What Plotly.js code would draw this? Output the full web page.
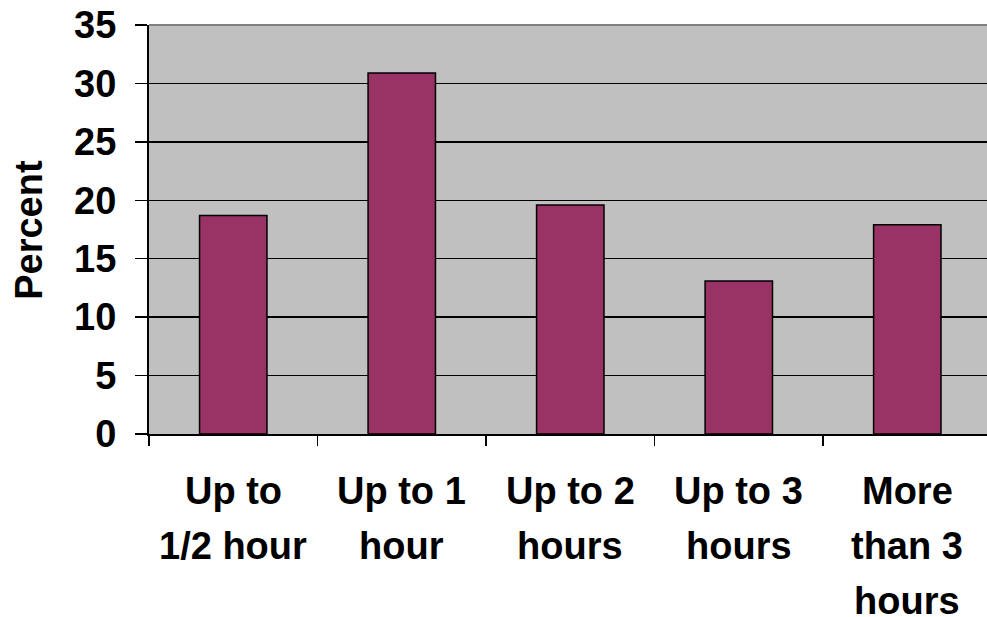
<!DOCTYPE html>
<html>
<head>
<meta charset="utf-8">
<script src="https://cdn.plot.ly/plotly-3.0.1.min.js"></script>
<style>html,body{margin:0;padding:0;background:#fff;}#chart{width:987px;height:617px;}</style>
</head>
<body>
<div id="chart"></div>
<script>
const categories = ["Up to 1/2 hour", "Up to 1 hour", "Up to 2 hours", "Up to 3 hours", "More than 3 hours"];
const labelLines = [["Up to", "1/2 hour"], ["Up to 1", "hour"], ["Up to 2", "hours"], ["Up to 3", "hours"], ["More", "than 3", "hours"]];
const percents = [18.7, 30.9, 19.6, 13.1, 17.9];
const yTicks = [0, 5, 10, 15, 20, 25, 30, 35];
const yTitle = "Percent";

const FONT = "Liberation Sans, Arial, sans-serif";
const annotations = [];
categories.forEach((c, i) => {
  labelLines[i].forEach((line, j) => {
    annotations.push({
      x: c, xref: "x", y: 0, yref: "paper",
      xanchor: "center", yanchor: "middle",
      yshift: -57 - 55 * j,
      text: "<b>" + line + "</b>", showarrow: false,
      font: {family: FONT, size: 38, color: "#000"}
    });
  });
});
annotations.push({
  x: -0.144, xref: "paper", y: 0.5, yref: "paper",
  xanchor: "center", yanchor: "middle", textangle: -90,
  text: "<b>" + yTitle + "</b>", showarrow: false,
  font: {family: FONT, size: 38, color: "#000"}
});

const trace = {
  type: "bar", x: categories, y: percents, width: 0.4,
  marker: {color: "#993366", line: {color: "#000", width: 1.5}},
  hoverinfo: "none"
};

const layout = {
  width: 987, height: 617,
  margin: {l: 149, r: 0, t: 25, b: 183},
  paper_bgcolor: "#fff", plot_bgcolor: "#C0C0C0",
  showlegend: false,
  font: {family: FONT, color: "#000"},
  xaxis: {
    type: "category", range: [-0.5, 4.473],
    showticklabels: false, tickson: "boundaries",
    ticks: "outside", ticklen: 10, tickwidth: 1.5, tickcolor: "#000",
    showline: true, linecolor: "#000", linewidth: 2,
    showgrid: false, zeroline: false, fixedrange: true
  },
  yaxis: {
    range: [0, 35], tickvals: yTicks, ticktext: yTicks.map(v => "<b>" + v + "</b>"),
    ticks: "outside", ticklen: 12, tickwidth: 1.5, tickcolor: "#000",
    ticklabelstandoff: 11,
    tickfont: {family: FONT, size: 38, color: "#000"},
    showline: true, linecolor: "#000", linewidth: 2,
    showgrid: true, gridcolor: "#000", gridwidth: 1.5,
    zeroline: false, fixedrange: true
  },
  shapes: [{type: "line", xref: "paper", yref: "paper", x0: 0, x1: 1, y0: 1, y1: 1,
            line: {color: "#808080", width: 2}}],
  annotations: annotations
};

Plotly.newPlot("chart", [trace], layout, {displayModeBar: false, staticPlot: true});
</script>
</body>
</html>
